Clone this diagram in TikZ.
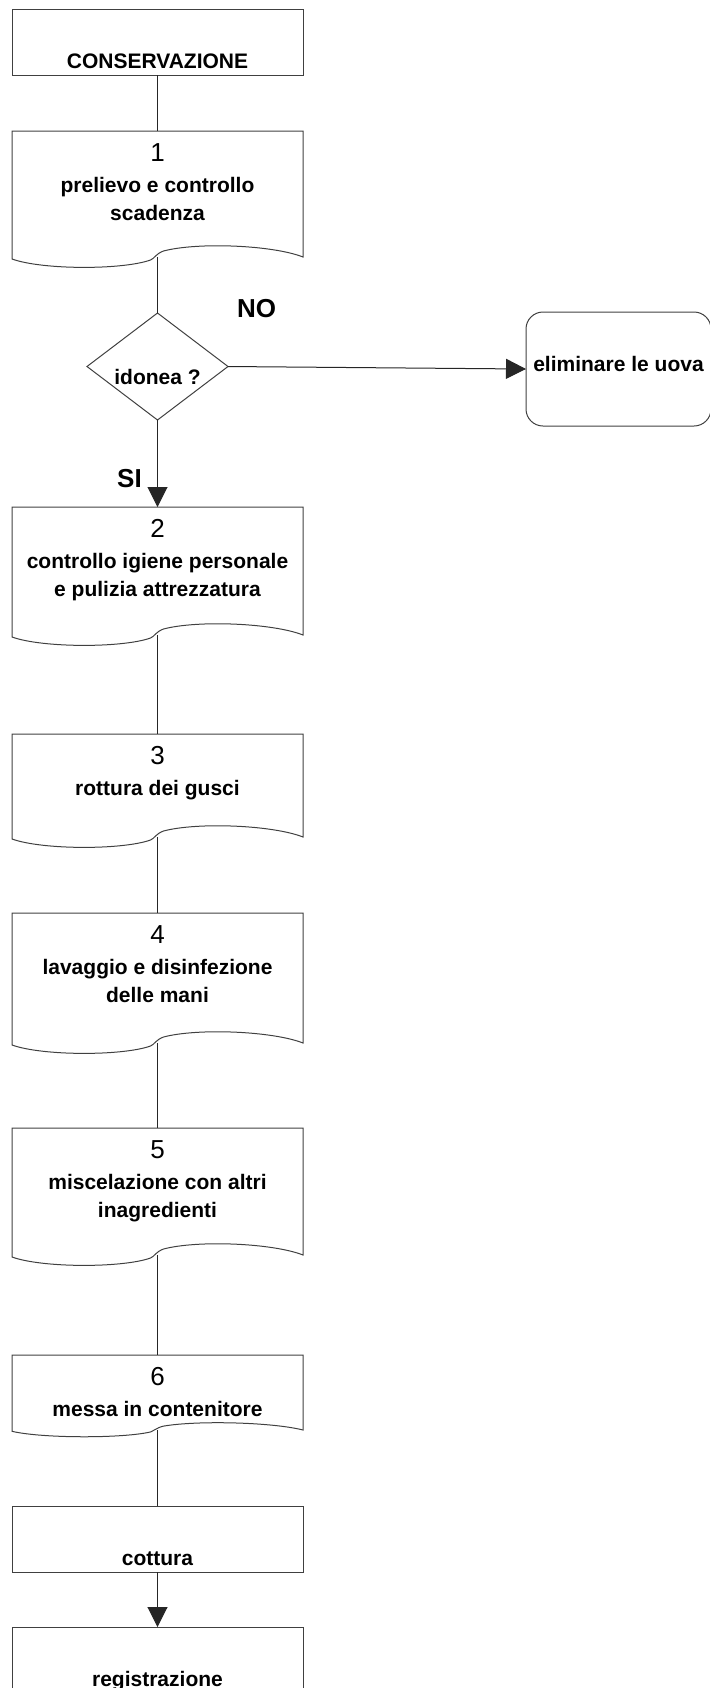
\documentclass[tikz,border=0pt]{standalone}
\usepackage{fontspec}
\setmainfont{Liberation Sans}
\usetikzlibrary{shapes.geometric, arrows.meta}

\newcommand{\stepfont}{\fontsize{10.5pt}{14pt}\selectfont\bfseries}
\newcommand{\numfont}{\fontsize{13pt}{14pt}\selectfont\mdseries}
% body of a document box: height, step number, text lines
\newcommand{\stepbody}[3]{%
  \parbox[c][#1][t]{140pt}{\centering\stepfont
    \rule{0pt}{15.25pt}{\numfont #2}\\[1.5pt]
    #3}}

\begin{document}
\begin{tikzpicture}[
    x=0.5pt, y=-0.5pt,
    >={Triangle[length=10pt, width=10pt]},
    box line/.style={draw=black!75, line width=0.5pt},
    plainbox/.style={
        box line, rectangle, minimum width=145.5pt, minimum height=33pt,
        inner sep=0pt, outer sep=0pt, text height=26pt, text depth=0pt,
        font=\stepfont
    },
    docbox/.style={
        rectangle, minimum width=145.5pt, inner sep=0pt, outer sep=0pt
    },
    decision/.style={
        box line, diamond, aspect=1.3, minimum width=70.5pt, minimum height=53.5pt,
        inner sep=0pt, outer sep=0pt, text height=18pt, text depth=0pt,
        font=\stepfont
    },
    endbox/.style={
        box line, rectangle, rounded corners=8.5pt, minimum width=92.5pt,
        minimum height=57pt, inner sep=0pt, outer sep=0pt,
        text height=8pt, text depth=6pt, font=\stepfont
    },
    answer/.style={font=\fontsize{13pt}{15pt}\selectfont\bfseries, inner sep=0pt},
    conn/.style={draw=black!85, line width=0.5pt}
]

\useasboundingbox (0,0) rectangle (709,1688);

% -------------------------
% Boxes
% -------------------------

\node[plainbox] (Conserv) at (157.5, 42) {CONSERVAZIONE};

\node[docbox] (Prelievo) at (157.5, 194) {\stepbody{63pt}{1}{prelievo e controllo\\scadenza}};

\node[decision] (Idonea) at (157.5, 366.5) {idonea ?};

\node[endbox] (Elimina) at (618.5, 369) {eliminare le uova};

\node[docbox] (Igiene) at (157.5, 571) {\stepbody{64pt}{2}{controllo igiene personale\\e pulizia attrezzatura}};

\node[docbox] (Rottura) at (157.5, 785.5) {\stepbody{51.5pt}{3}{rottura dei gusci}};

\node[docbox] (Lavaggio) at (157.5, 978) {\stepbody{65pt}{4}{lavaggio e disinfezione\\delle mani}};

\node[docbox] (Miscela) at (157.5, 1191.5) {\stepbody{63.5pt}{5}{miscelazione con altri\\inagredienti}};

\node[docbox] (Contenitore) at (157.5, 1392.5) {\stepbody{37.5pt}{6}{messa in contenitore}};

\node[plainbox] (Cottura) at (157.5, 1539) {cottura};

\node[plainbox] (Registra) at (157.5, 1660) {registrazione};

% document outline with wavy bottom (\w = wave height)
\foreach \n/\w in {Prelievo/1,Igiene/1,Rottura/1,Lavaggio/1,Miscela/1,Contenitore/0.65} {
    \draw[box line, shift={(\n.south)}, yscale=\w]
        (\n.south east) -- (\n.north east) -- (\n.north west) -- (-145.5,2)
        .. controls (-115,13) and (-35,13) .. (-7,3)
        .. controls (-3,1.5) and (-2,-3) .. (6,-6)
        .. controls (40,-15) and (115,-12) .. (145.5,0) -- cycle;
}

% answers
\node[answer] (No) at (256.5, 309) {NO};
\node[answer] (Si) at (129.5, 478.5) {SI};

% -------------------------
% Connections
% -------------------------

\draw[conn] (Conserv.south) -- (Prelievo.north);
\draw[conn] (Prelievo.south) -- (Idonea.north);
\draw[conn, ->] (Idonea.east) -- (Elimina.west);
\draw[conn, ->] (Idonea.south) -- (Igiene.north);
\draw[conn] (Igiene.south) -- (Rottura.north);
\draw[conn] (Rottura.south) -- (Lavaggio.north);
\draw[conn] (Lavaggio.south) -- (Miscela.north);
\draw[conn] (Miscela.south) -- (Contenitore.north);
\draw[conn] (Contenitore.south) -- (Cottura.north);
\draw[conn, ->] (Cottura.south) -- (Registra.north);

\end{tikzpicture}
\end{document}
